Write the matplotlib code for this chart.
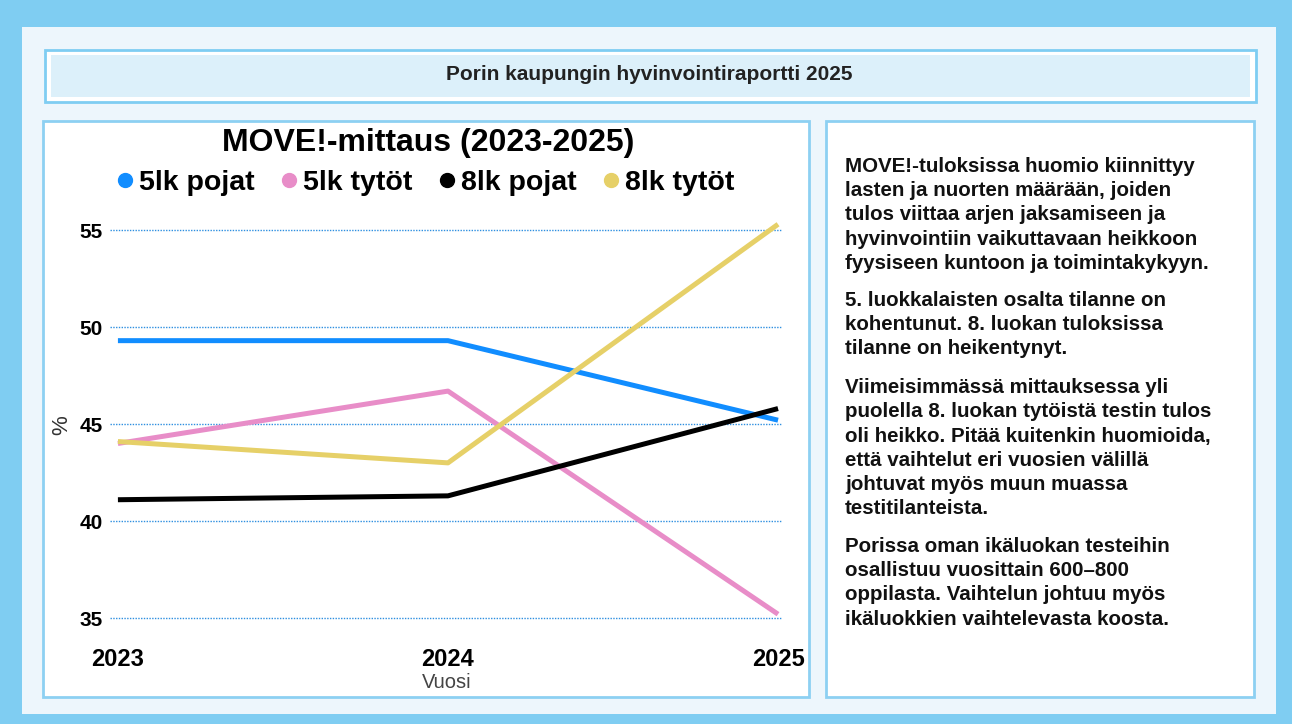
import matplotlib.pyplot as plt
from matplotlib.patches import Rectangle
from matplotlib.lines import Line2D

# data
vuodet = [2023, 2024, 2025]
sarjat = ['5lk pojat', '5lk tytöt', '8lk pojat', '8lk tytöt']
poika5 = [49.3, 49.3, 45.2]
tytto5 = [44.0, 46.7, 35.2]
poika8 = [41.1, 41.3, 45.8]
tytto8 = [44.1, 43.0, 55.3]
y_ticks = [35, 40, 45, 50, 55]

kappaleet = [
    "MOVE!-tuloksissa huomio kiinnittyy\nlasten ja nuorten määrään, joiden\ntulos viittaa arjen jaksamiseen ja\nhyvinvointiin vaikuttavaan heikkoon\nfyysiseen kuntoon ja toimintakykyyn.",
    "5. luokkalaisten osalta tilanne on\nkohentunut. 8. luokan tuloksissa\ntilanne on heikentynyt.",
    "Viimeisimmässä mittauksessa yli\npuolella 8. luokan tytöistä testin tulos\noli heikko. Pitää kuitenkin huomioida,\nettä vaihtelut eri vuosien välillä\njohtuvat myös muun muassa\ntestitilanteista.",
    "Porissa oman ikäluokan testeihin\nosallistuu vuosittain 600–800\noppilasta. Vaihtelun johtuu myös\nikäluokkien vaihtelevasta koosta.",
]

plt.rcParams['font.family'] = ['Liberation Sans', 'DejaVu Sans']

W, H = 1292, 724
fig = plt.figure(figsize=(W / 100, H / 100), dpi=100)
fig.patch.set_facecolor('#7fcdf2')


def box(x0, y0, x1, y1, fc, ec=None, lw=0):
    # pikselikoordinaatit ylhäältä
    r = Rectangle((x0 / W, 1 - y1 / H), (x1 - x0) / W, (y1 - y0) / H,
                  transform=fig.transFigure, facecolor=fc,
                  edgecolor=ec if ec else 'none', linewidth=lw, zorder=0)
    fig.add_artist(r)


def fx(x):
    return x / W


def fy(y):
    return 1 - y / H


box(22, 27, 1276, 714, '#edf6fc')
box(45, 50, 1256, 102, '#ffffff', '#7fcdf2', 2)
box(51, 55, 1250, 97, '#dcf0fa')
box(43, 121, 809, 697, '#ffffff', '#8dd0f2', 2)
box(826, 121, 1254, 697, '#ffffff', '#8dd0f2', 2)

fig.text(fx(649), fy(75), 'Porin kaupungin hyvinvointiraportti 2025',
         ha='center', va='center', fontsize=15, fontweight='bold', color='#222222')

# kaavio
ax = fig.add_axes([fx(110), fy(640), fx(782) - fx(110), fy(200) - fy(640)])
ax.set_facecolor('white')
varit = ['#118dff', '#e88dc8', '#000000', '#e6d068']
for arvot, vari, nimi in zip([poika5, tytto5, poika8, tytto8], varit, sarjat):
    ax.plot(vuodet, arvot, color=vari, linewidth=3.6, label=nimi,
            solid_capstyle='butt', solid_joinstyle='round')

ax.set_xlim(2022.976, 2025.012)
ax.set_ylim(33.87, 56.55)
ax.set_yticks(y_ticks)
ax.set_xticks(vuodet)
ax.set_xticklabels([str(v) for v in vuodet], fontsize=17, fontweight='bold')
ax.set_yticklabels([str(v) for v in y_ticks], fontsize=15, fontweight='bold')
ax.tick_params(length=0, pad=5)
ax.tick_params(axis='x', pad=6)
for s in ax.spines.values():
    s.set_visible(False)
ax.grid(axis='y', color='#2e8fe0', linestyle=(0, (1, 1)), linewidth=1.0)
ax.set_axisbelow(True)

fig.text(fx(447), fy(682), 'Vuosi', ha='center', va='center', fontsize=14.5, color='#444444')
fig.text(fx(62), fy(425), '%', ha='center', va='center', fontsize=16, rotation=90, color='#333333')

fig.text(fx(428), fy(143), 'MOVE!-mittaus (2023-2025)', ha='center', va='center',
         fontsize=23, fontweight='bold')

kahvat = [Line2D([], [], color=c, marker='o', linestyle='none', markersize=10) for c in varit]
leg = fig.legend(kahvat, sarjat, loc='center', bbox_to_anchor=(fx(424), fy(183)),
                 ncol=4, frameon=False, handletextpad=0.1, columnspacing=0.8,
                 prop={'size': 20.5, 'weight': 'bold'}, borderaxespad=0, handlelength=0.8)

# teksti
alut = [165, 299, 386, 545]
for kpl, y in zip(kappaleet, alut):
    fig.text(fx(845), fy(y - 8), kpl, ha='left', va='top', fontsize=14.8,
             fontweight='bold', linespacing=1.35, color='#111111')

fig.savefig('out.png', dpi=100, facecolor=fig.get_facecolor())
